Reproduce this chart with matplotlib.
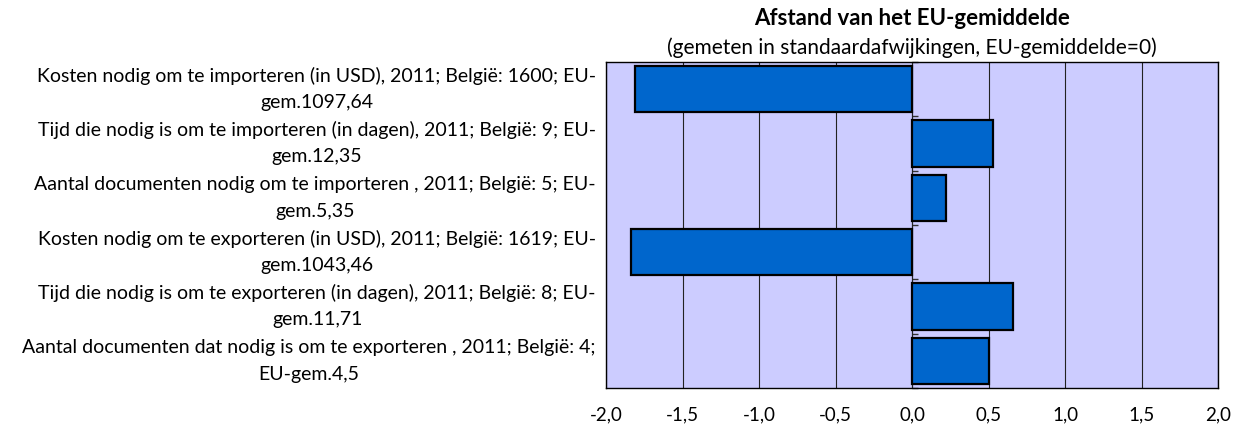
import numpy as np
import matplotlib
matplotlib.use("Agg")
import matplotlib.pyplot as plt

plt.rcParams['font.family'] = ['Lato', 'DejaVu Sans']

# categories (top to bottom): first and second line of each label
label_line1 = [
    "Kosten nodig om te importeren (in USD), 2011; België: 1600; EU-",
    "Tijd die nodig is om te importeren (in dagen), 2011; België: 9; EU-",
    "Aantal documenten nodig om te importeren , 2011; België: 5; EU-",
    "Kosten nodig om te exporteren (in USD), 2011; België: 1619; EU-",
    "Tijd die nodig is om te exporteren (in dagen), 2011; België: 8; EU-",
    "Aantal documenten dat nodig is om te exporteren , 2011; België: 4;",
]
label_line2 = ["gem.1097,64", "gem.12,35", "gem.5,35", "gem.1043,46", "gem.11,71", "EU-gem.4,5"]
# distance from EU average, in standard deviations
values = [-1.81, 0.53, 0.22, -1.84, 0.66, 0.50]
xticks = [-2.0, -1.5, -1.0, -0.5, 0.0, 0.5, 1.0, 1.5, 2.0]
xtick_labels = ["-2,0", "-1,5", "-1,0", "-0,5", "0,0", "0,5", "1,0", "1,5", "2,0"]

fig = plt.figure(figsize=(12.42, 4.34), dpi=100)
ax = fig.add_axes([0.488, 0.106, 0.493, 0.751])
ax.set_facecolor('#CCCCFF')

y = np.arange(len(values))
ax.barh(y, values, height=0.85, color='#0066CC', edgecolor='black', linewidth=1.6, zorder=3)

ax.set_xlim(-2, 2)
ax.set_ylim(len(values) - 0.5, -0.5)
ax.set_xticks(xticks)
ax.set_xticklabels(xtick_labels, fontsize=13.5)
ax.tick_params(axis='x', length=0, pad=13)
ax.xaxis.grid(True, color='#222222', lw=0.8, zorder=1)
ax.set_axisbelow(True)
ax.set_yticks([])

for s in ax.spines.values():
    s.set_color('black')
    s.set_linewidth(1.0)

# category labels: first line right-aligned, second line centred under it
renderer = fig.canvas.get_renderer()
trans = ax.get_yaxis_transform()
for yi, l1, l2 in zip(y, label_line1, label_line2):
    t1 = ax.text(-0.0165, yi - 0.245, l1, transform=trans, ha='right', va='center', fontsize=14)
    bb = t1.get_window_extent(renderer)
    xc = ax.transAxes.inverted().transform(((bb.x0 + bb.x1) / 2, 0))[0]
    ax.text(xc, yi + 0.245, l2, transform=trans, ha='center', va='center', fontsize=14)

# category axis at x = 0 with boundary tick marks
sec = ax.secondary_yaxis(0.5)
sec.set_yticks(np.arange(len(values) + 1) - 0.5)
sec.set_yticklabels([])
sec.tick_params(axis='y', length=4, width=1, direction='out', color='#333333')
sec.spines['left'].set_color('#333333')
sec.spines['left'].set_linewidth(1.0)

fig.text(0.734, 0.958, "Afstand van het EU-gemiddelde", ha='center', va='center',
         fontsize=16, fontweight='bold')
fig.text(0.734, 0.889, "(gemeten in standaardafwijkingen, EU-gemiddelde=0)", ha='center',
         va='center', fontsize=15)

fig.savefig("out.png", dpi=100)
